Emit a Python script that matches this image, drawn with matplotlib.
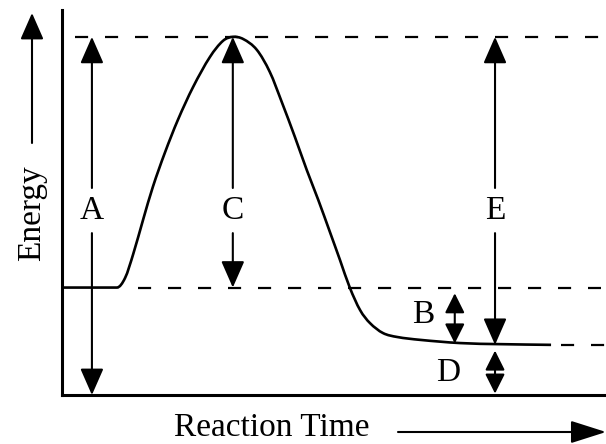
import matplotlib
matplotlib.use('Agg')
import matplotlib.pyplot as plt
from matplotlib.path import Path
from matplotlib.patches import PathPatch

# energy profile (time and energy in arbitrary units)
time = [0, 10.1, 11.6, 13.1, 14.9, 16.7, 18.9, 21.3, 24.1, 27.2, 29.6, 31.4,
        33.3, 35.8, 38.2, 40.4, 42.8, 45.0, 47.1, 49.3, 51.1, 52.9, 54.8,
        56.6, 59.0, 61.6, 65.8, 73.2, 80.5, 89.9]
energy = [30, 30, 32.7, 39.4, 48.9, 58.1, 67.6, 76.8, 86.0, 94.4, 98.9, 100,
          99.4, 96.4, 90.2, 81.8, 72.1, 62.8, 54.5, 45.3, 37.7, 30.0, 23.7,
          20.1, 17.3, 16.2, 15.4, 14.5, 14.2, 14.0]

reactant_E = 30
peak_E = 100
product_E = 14

# dashed guide lines: (level, start time, end time)
guide_levels = [peak_E, reactant_E, product_E]
guide_start = [2.4, 14.0, 91.7]
guide_end = [100, 99.0, 100]

# long labelled arrows (split around the letter)
long_labels = ['A', 'C', 'E']
long_t = [5.5, 31.4, 79.6]
long_low = [0, reactant_E, product_E]
label_E = 51.5

# short double arrows with the letter beside them
short_labels = ['B', 'D']
short_t = [72.2, 79.6]
short_low = [product_E, 0]
short_high = [reactant_E, product_E]
short_label_t = [66.4, 71.0]
short_label_E = [22.3, 6.1]

font = 'Liberation Serif'
fs = 24


def smooth_path(xs, ys):
    # cubic bezier through the read points, tangents from neighbours
    n = len(xs)
    slopes = []
    for i in range(n):
        a = max(i - 1, 0)
        b = min(i + 1, n - 1)
        slopes.append((ys[b] - ys[a]) / (xs[b] - xs[a]))
    slopes[0] = 0
    slopes[1] = 0
    verts = [(xs[0], ys[0])]
    codes = [Path.MOVETO]
    for i in range(n - 1):
        dx = (xs[i + 1] - xs[i]) / 3
        verts += [(xs[i] + dx, ys[i] + slopes[i] * dx),
                  (xs[i + 1] - dx, ys[i + 1] - slopes[i + 1] * dx),
                  (xs[i + 1], ys[i + 1])]
        codes += [Path.CURVE4] * 3
    return Path(verts, codes)


fig = plt.figure(figsize=(6.06, 4.44), dpi=100)
ax = fig.add_axes([62 / 606, 49 / 444, 544 / 606, 385 / 444])
ax.set_xlim(0, 100)
ax.set_ylim(0, 107.5)
ax.set_xticks([])
ax.set_yticks([])
for side in ['top', 'right']:
    ax.spines[side].set_visible(False)
for side in ['left', 'bottom']:
    ax.spines[side].set_linewidth(2.2)

for lev, t0, t1 in zip(guide_levels, guide_start, guide_end):
    ax.plot([t0, t1], [lev, lev], color='black', lw=1.6,
            dashes=(5.9, 7.6), clip_on=False)

ax.add_patch(PathPatch(smooth_path(time, energy), facecolor='none',
                       edgecolor='black', lw=1.9))

big = dict(arrowstyle='-|>,head_length=0.82,head_width=0.36',
           mutation_scale=20, color='black', lw=1.5, shrinkA=0, shrinkB=0)
small = dict(arrowstyle='<|-|>,head_length=0.6,head_width=0.3',
             mutation_scale=20, color='black', lw=1.5, shrinkA=0, shrinkB=0)

gap = 6.3
for lab, t, low in zip(long_labels, long_t, long_low):
    ax.annotate('', xy=(t, peak_E), xytext=(t, label_E + gap), arrowprops=big)
    ax.annotate('', xy=(t, low), xytext=(t, label_E - gap), arrowprops=big)
    ax.text(t, label_E, lab, ha='center', va='center', fontsize=fs,
            family=font)

for lab, t, lo, hi, lt, le in zip(short_labels, short_t, short_low,
                                  short_high, short_label_t, short_label_E):
    ax.annotate('', xy=(t, lo + 0.4), xytext=(t, hi - 1.6), arrowprops=small)
    ax.text(lt, le, lab, ha='center', va='center', fontsize=fs, family=font)

# axis captions with their arrows
fig.text(32 / 606, 1 - 213 / 444, 'Energy', rotation=90, ha='center',
         va='center', fontsize=fs, family=font)
ax.annotate('', xy=(32 / 606, 1 - 13 / 444), xytext=(32 / 606, 1 - 143 / 444),
            xycoords='figure fraction', textcoords='figure fraction',
            arrowprops=big)
fig.text(272 / 606, 1 - 436 / 444, 'Reaction Time', ha='center',
         va='baseline', fontsize=fs, family=font)
ax.annotate('', xy=(606 / 606, 1 - 432 / 444), xytext=(398 / 606, 1 - 432 / 444),
            xycoords='figure fraction', textcoords='figure fraction',
            arrowprops=dict(arrowstyle='-|>,head_length=1.1,head_width=0.35',
                            mutation_scale=20, color='black', lw=1.5,
                            shrinkA=0, shrinkB=0))

fig.savefig('out.png', dpi=100)
